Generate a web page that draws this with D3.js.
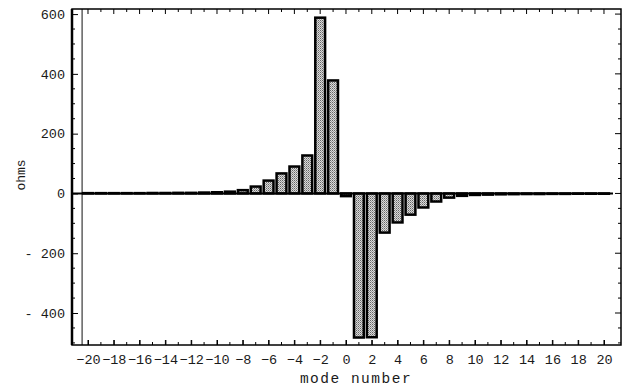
<!DOCTYPE html>
<html>
<head>
<meta charset="utf-8">
<script src="https://cdn.jsdelivr.net/npm/d3@7"></script>
<style>
  body { margin: 0; background: #fff; }
  svg { display: block; }
  text { font-family: "Liberation Mono", monospace; fill: #1a1a1a; }
</style>
</head>
<body>
<svg id="chart" width="627" height="388"></svg>
<script>
// mode numbers and impedance (ohms)
const modes = [-20, -19, -18, -17, -16, -15, -14, -13, -12, -11, -10, -9, -8, -7, -6, -5, -4, -3, -2, -1,
  0, 1, 2, 3, 4, 5, 6, 7, 8, 9, 10, 11, 12, 13, 14, 15, 16, 17, 18, 19, 20];
const ohms = [1, 1, 1, 1, 1, 1.5, 1.5, 2, 2, 3, 4, 6, 11, 23, 43, 67, 90, 127, 588, 378,
  -9, -482, -481, -131, -97, -71, -47, -27, -14, -8, -5, -4, -3, -2.5, -2, -2, -1.5, -1.5, -1, -1, -1];
const xTicks = [-20, -18, -16, -14, -12, -10, -8, -6, -4, -2, 0, 2, 4, 6, 8, 10, 12, 14, 16, 18, 20];
const yTicks = [-400, -200, 0, 200, 400, 600];
const yMinor = [-500, -450, -350, -300, -250, -150, -100, -50, 50, 100, 150, 250, 300, 350, 450, 500, 550];

const data = modes.map((m, i) => ({ mode: m, val: ohms[i] }));

const L = 72, R = 621, T = 9, B = 345;

const x = d3.scaleLinear().domain([-21.24, 21.32]).range([L, R]);
const y = d3.scaleLinear().domain([-507, 617]).range([B, T]);
const bw = (x(1) - x(0)) * 0.76;

const svg = d3.select('#chart');

// stipple fill like the halftone in the scan
const pat = svg.append('defs').append('pattern')
  .attr('id', 'dots')
  .attr('width', 2).attr('height', 2)
  .attr('patternUnits', 'userSpaceOnUse');
pat.append('rect').attr('width', 2).attr('height', 2).attr('fill', '#dadada');
pat.append('rect').attr('x', 0).attr('y', 0).attr('width', 1).attr('height', 1).attr('fill', '#666');
pat.append('rect').attr('x', 1).attr('y', 1).attr('width', 1).attr('height', 1).attr('fill', '#999');

// vertical axis line at the left edge of the first bar
svg.append('line')
  .attr('x1', x(-20) - bw / 2 - 1).attr('x2', x(-20) - bw / 2 - 1)
  .attr('y1', T).attr('y2', B)
  .attr('stroke', '#111').attr('stroke-width', 1);

// bars
svg.append('g')
  .selectAll('rect')
  .data(data)
  .enter()
  .append('rect')
  .attr('x', d => x(d.mode) - bw / 2)
  .attr('width', bw)
  .attr('y', d => Math.min(y(d.val), y(0)))
  .attr('height', d => Math.abs(y(d.val) - y(0)))
  .attr('fill', 'url(#dots)')
  .attr('stroke', '#000')
  .attr('stroke-width', 2.5);

// zero axis
svg.append('line')
  .attr('x1', L).attr('x2', x(20.7))
  .attr('y1', y(0)).attr('y2', y(0))
  .attr('stroke', '#000').attr('stroke-width', 2);

// bottom axis, ticks pointing inward
const xAxis = svg.append('g')
  .attr('transform', `translate(0,${B})`)
  .call(d3.axisBottom(x).tickValues(xTicks).tickSizeInner(-5).tickSizeOuter(0).tickPadding(9));
xAxis.select('.domain').remove();
xAxis.selectAll('text').style('font-size', '13.5px');

// minor ticks top and bottom at every mode
svg.append('g').selectAll('line').data(modes).enter().append('line')
  .attr('x1', d => x(d)).attr('x2', d => x(d))
  .attr('y1', B).attr('y2', d => B - (d % 2 === 0 ? 5 : 3))
  .attr('stroke', '#000');
svg.append('g').selectAll('line').data(modes).enter().append('line')
  .attr('x1', d => x(d)).attr('x2', d => x(d))
  .attr('y1', T).attr('y2', d => T + (d % 2 === 0 ? 5 : 3))
  .attr('stroke', '#000');

// left axis
const yAxis = svg.append('g')
  .attr('transform', `translate(${L},0)`)
  .call(d3.axisLeft(y).tickValues(yTicks).tickSizeInner(-6).tickSizeOuter(0).tickPadding(7)
    .tickFormat(d => d < 0 ? '- ' + Math.abs(d) : d));
yAxis.select('.domain').remove();
yAxis.selectAll('text').style('font-size', '13.5px');

svg.append('g').selectAll('line').data(yMinor).enter().append('line')
  .attr('x1', L).attr('x2', L + 3)
  .attr('y1', d => y(d)).attr('y2', d => y(d))
  .attr('stroke', '#000');

// right side ticks
svg.append('g').selectAll('line').data(yTicks.concat(yMinor)).enter().append('line')
  .attr('x1', R).attr('x2', d => R - (d % 200 === 0 ? 6 : 3))
  .attr('y1', d => y(d)).attr('y2', d => y(d))
  .attr('stroke', '#000');

// frame
svg.append('rect')
  .attr('x', L).attr('y', T)
  .attr('width', R - L).attr('height', B - T)
  .attr('fill', 'none')
  .attr('stroke', '#000')
  .attr('stroke-width', 1.5);
svg.append('line')
  .attr('x1', L).attr('x2', L).attr('y1', T).attr('y2', B)
  .attr('stroke', '#000').attr('stroke-width', 2.5);

// axis titles
svg.append('text')
  .attr('x', 356).attr('y', 383)
  .attr('text-anchor', 'middle')
  .style('font-size', '14.5px')
  .style('letter-spacing', '1.5px')
  .text('mode number');

svg.append('text')
  .attr('transform', 'translate(25,175) rotate(-90)')
  .attr('text-anchor', 'middle')
  .style('font-size', '13px')
  .text('ohms');
</script>
</body>
</html>
